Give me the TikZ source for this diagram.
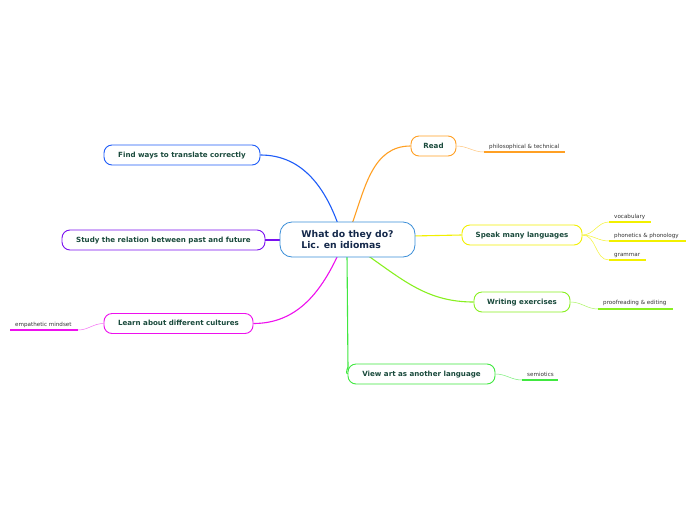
\documentclass[tikz,border=0pt]{standalone}
\usepackage{fontspec}
\setmainfont{DejaVu Sans}
\begin{document}
\begin{tikzpicture}[x=1pt,y=-1pt,
  central/.style={draw=cblue, line width=0.8pt, rounded corners=12pt, fill=white,
    minimum width=135pt, minimum height=35pt, font=\fontsize{9.3}{11}\selectfont\bfseries,
    text=navy, align=left, inner sep=0pt},
  branch/.style={line width=0.9pt, rounded corners=8pt, fill=white, minimum height=20pt,
    inner sep=0pt, text height=5.3pt, text depth=0.8pt,
    font=\fontsize{7.1}{8}\selectfont\bfseries, text=dgreen},
  subtext/.style={font=\fontsize{5.6}{6.5}\selectfont, text=sgray, inner sep=0pt, anchor=base west},
  uline/.style={line width=1.4pt},
  conn/.style={line width=1.1pt},
  subconn/.style={line width=0.5pt}
]
\definecolor{cblue}{HTML}{3B8ED8}
\definecolor{navy}{HTML}{14284A}
\definecolor{dgreen}{HTML}{1A4A3C}
\definecolor{sgray}{HTML}{333333}
\definecolor{corange}{HTML}{FFA024}
\definecolor{cyellow}{HTML}{F2F000}
\definecolor{cchart}{HTML}{88F020}
\definecolor{cgreen}{HTML}{40E840}
\definecolor{cmag}{HTML}{EE10EE}
\definecolor{cpurple}{HTML}{7A10F0}
\definecolor{cbluebr}{HTML}{1E5CF8}
\useasboundingbox[fill=white] (0,0) rectangle (696,520);

% connectors from central (drawn first)
\coordinate (c0) at (347.5,239.5);
\coordinate (cRead) at (352,224);
\coordinate (cFind) at (338,224);
\coordinate (cLearn) at (338,255);
\coordinate (cWrite) at (367,255);
\coordinate (cView) at (347,255);

\node[branch, draw=corange, minimum width=45pt] (read) at (433.5,146) {Read};
\node[branch, draw=cyellow, minimum width=120pt] (speak) at (522,235) {Speak many languages};
\node[branch, draw=cchart, minimum width=96pt] (write) at (522,302) {Writing exercises};
\node[branch, draw=cgreen, minimum width=147pt] (view) at (421.5,374) {View art as another language};
\node[branch, draw=cmag, minimum width=149pt] (learn) at (178.5,323.5) {Learn about different cultures};
\node[branch, draw=cpurple, minimum width=203pt] (study) at (163.5,240) {Study the relation between past and future};
\node[branch, draw=cbluebr, minimum width=156pt] (find) at (182,155) {Find ways to translate correctly};

\draw[conn, corange] (cRead) to[out=70, in=180] (read.west);
\draw[conn, cbluebr] (cFind) to[out=110, in=0] (find.east);
\draw[conn, cmag] (cLearn) to[out=-115, in=0] (learn.east);
\draw[conn, cchart] (cWrite) to[out=-35, in=180] (write.west);
\draw[conn, cgreen] (cView) -- (348,368) to[out=90, in=180] (view.west);
\draw[conn, cpurple] (study.east) -- (282,240);
\draw[conn, cyellow] (412,236) -- (speak.west);

\node[central] (central) at (c0) {What do they do?\\Lic. en idiomas};

% sub topics
% Read
\node[subtext] (philo) at (489,148) {philosophical \& technical};
\coordinate (philoA) at (484,152);
\coordinate (philoB) at (565,152);
\draw[uline, corange] (philoA) -- (philoB);
\draw[subconn, corange!60] (read.east) to[out=0, in=180] (philoA);

% Speak
\node[subtext] (voc) at (614,218) {vocabulary};
\coordinate (vocA) at (609,222);
\coordinate (vocB) at (651,222);
\node[subtext] (phon) at (614,237) {phonetics \& phonology};
\coordinate (phonA) at (609,241);
\coordinate (phonB) at (686,241);
\node[subtext] (gram) at (614,256) {grammar};
\coordinate (gramA) at (609,260);
\coordinate (gramB) at (646,260);
\draw[uline, cyellow] (vocA) -- (vocB);
\draw[uline, cyellow] (phonA) -- (phonB);
\draw[uline, cyellow] (gramA) -- (gramB);
\draw[subconn, cyellow!80] (speak.east) to[out=0, in=180] (vocA);
\draw[subconn, cyellow!80] (speak.east) to[out=0, in=180] (phonA);
\draw[subconn, cyellow!80] (speak.east) to[out=0, in=180] (gramA);

% Writing
\node[subtext] (proof) at (603,304.5) {proofreading \& editing};
\coordinate (proofA) at (598,309);
\coordinate (proofB) at (673,309);
\draw[uline, cchart] (proofA) -- (proofB);
\draw[subconn, cchart!70] (write.east) to[out=0, in=180] (proofA);

% View art
\node[subtext] (semi) at (527,376) {semiotics};
\coordinate (semiA) at (522,380);
\coordinate (semiB) at (558,380);
\draw[uline, cgreen] (semiA) -- (semiB);
\draw[subconn, cgreen!70] (view.east) to[out=0, in=180] (semiA);

% Learn
\node[subtext] (emp) at (15,326) {empathetic mindset};
\coordinate (empA) at (10,330);
\coordinate (empB) at (78,330);
\draw[uline, cmag] (empA) -- (empB);
\draw[subconn, cmag!60] (learn.west) to[out=180, in=0] (empB);
\end{tikzpicture}
\end{document}
